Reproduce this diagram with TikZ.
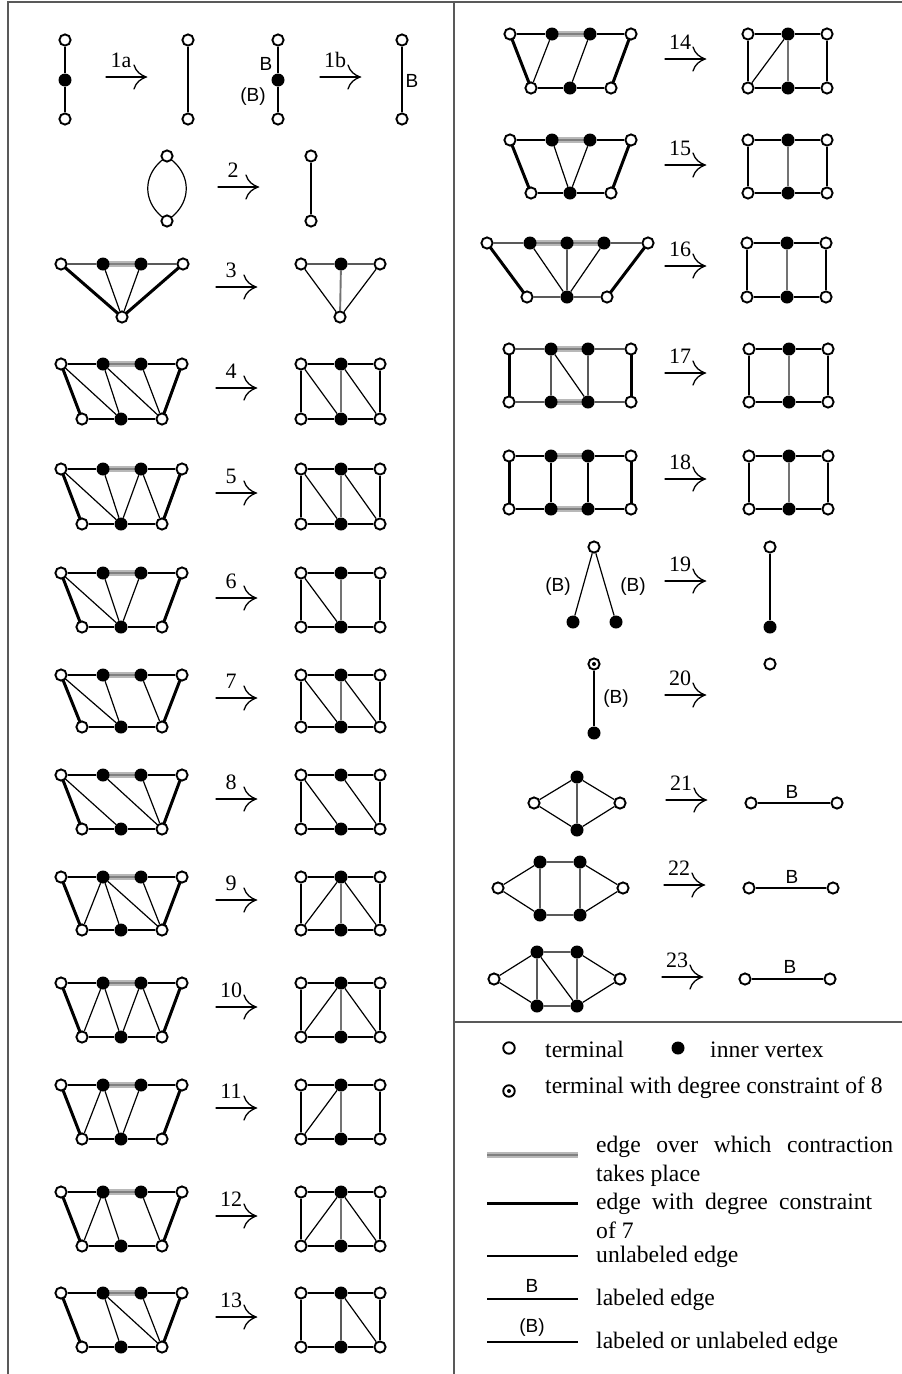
\documentclass[tikz,border=0pt]{standalone}
\usepackage{fontspec}
\setmainfont{Liberation Serif}
\newfontfamily\labfont{Liberation Sans}
\usetikzlibrary{backgrounds}

\tikzset{
  term/.style={circle, draw, fill=white, line width=1.9pt, minimum size=11.2pt, inner sep=0pt},
  inn/.style={circle, fill=black, minimum size=13pt, inner sep=0pt},
  dterm/.style={term, path picture={\fill[black] (path picture bounding box.center) circle (2pt);}},
  ln/.style={line width=1.2pt},
  dc/.style={line width=3pt},
  ctr/.style={line width=2.2pt, draw=black!50, preaction={draw=black!28, line width=6.5pt}},
  midln/.style={line width=1.9pt, draw=black!55},
  arr/.style={line width=1.3pt, line cap=round},
  frm/.style={line width=1.2pt, draw=black!65},
  lbl/.style={inner sep=0pt, anchor=base, font=\fontsize{22}{22}\selectfont},
  blab/.style={inner sep=0pt, font=\labfont\fontsize{19}{19}\selectfont},
  leg/.style={inner sep=0pt, anchor=base west, font=\fontsize{23.6}{26}\selectfont},
}

% edges go underneath the vertices
\newcommand\onbg[1]{\begin{scope}[on background layer]#1\end{scope}}

% reduction arrow: start x, y, rule number
\newcommand\RArrow[3]{%
  \draw[arr] (#1,#2) -- (#1+40,#2);
  \draw[arr] (#1+28,#2-12) .. controls (#1+30,#2-5) and (#1+35,#2-2) .. (#1+40,#2)
             .. controls (#1+35,#2+2) and (#1+30,#2+5) .. (#1+28,#2+12);
  \node[lbl] (lab#3) at (#1+15,#2-10) {#3};}

% trapezoid pattern: prefix, left x, top y, bottom y
\newcommand\LTrap[4]{%
  \node[term] (#1t1) at (#2,#3) {};
  \node[inn]  (#1a)  at (#2+42,#3) {};
  \node[inn]  (#1b)  at (#2+80,#3) {};
  \node[term] (#1t2) at (#2+121,#3) {};
  \node[term] (#1t3) at (#2+21,#4) {};
  \node[inn]  (#1c)  at (#2+60,#4) {};
  \node[term] (#1t4) at (#2+101,#4) {};
  \onbg{%
    \draw[ctr] (#1a.center) -- (#1b.center);
    \draw[dc] (#1t1.center) -- (#1t3.center) (#1t2.center) -- (#1t4.center);
    \draw[ln] (#1t1) -- (#1a) (#1b) -- (#1t2) (#1t3) -- (#1c) -- (#1t4);}}

% reduced 2x3 grid: prefix, left x, top y, bottom y
\newcommand\RSq[4]{%
  \node[term] (#1u1) at (#2,#3) {};
  \node[inn]  (#1v)  at (#2+40,#3) {};
  \node[term] (#1u2) at (#2+79,#3) {};
  \node[term] (#1u3) at (#2,#4) {};
  \node[inn]  (#1w)  at (#2+40,#4) {};
  \node[term] (#1u4) at (#2+79,#4) {};
  \onbg{\draw[ln] (#1u1) -- (#1v) -- (#1u2) -- (#1u4) -- (#1w) -- (#1u3) -- (#1u1);}}

\begin{document}
\begin{tikzpicture}[x=1pt,y=-1pt]
\useasboundingbox (0,0) rectangle (902,1374);

% frame
\draw[frm] (8,1374) -- (8,2) -- (902,2);
\draw[frm] (454,2) -- (454,1374);
\draw[frm] (454,1022) -- (902,1022);

% ---- rule 1a
\node[term] (p1) at (65,40) {};
\node[inn]  (p2) at (65,80) {};
\node[term] (p3) at (65,119) {};
\onbg{\draw[ln] (p1) -- (p2) -- (p3);}
\RArrow{106}{77}{1a}
\node[term] (q1) at (188,40) {};
\node[term] (q2) at (188,119) {};
\onbg{\draw[ln] (q1) -- (q2);}

% ---- rule 1b
\node[term] (p4) at (278,40) {};
\node[inn]  (p5) at (278,80) {};
\node[term] (p6) at (278,119) {};
\onbg{\draw[ln] (p4) -- (p5) -- (p6);}
\node[blab] (p7) at (266,64) {B};
\node[blab] (p8) at (253,97) {(B)};
\RArrow{320}{77}{1b}
\node[term] (q3) at (402,40) {};
\node[term] (q4) at (402,119) {};
\onbg{\draw[ln] (q3) -- (q4);}
\node[blab] (q5) at (412,81) {B};

% ---- rule 2
\node[term] (r2a) at (167,156) {};
\node[term] (r2b) at (167,221) {};
\onbg{\draw[ln] (r2a) .. controls +(-24,20) and +(-24,-20) .. (r2b);
      \draw[ln] (r2a) .. controls +(24,20) and +(24,-20) .. (r2b);}
\RArrow{218}{187}{2}
\node[term] (s2a) at (311,156) {};
\node[term] (s2b) at (311,221) {};
\onbg{\draw[ln] (s2a) -- (s2b);}

% ---- rule 3
\node[term] (r3t1) at (61,264) {};
\node[inn]  (r3a)  at (103,264) {};
\node[inn]  (r3b)  at (141,264) {};
\node[term] (r3t2) at (183,264) {};
\node[term] (r3c)  at (122,317) {};
\onbg{\draw[ctr] (r3a.center) -- (r3b.center);
      \draw[dc] (r3t1.center) -- (r3c.center) -- (r3t2.center);
      \draw[ln] (r3t1) -- (r3a) (r3b) -- (r3t2) (r3a) -- (r3c) -- (r3b);}
\RArrow{216}{287}{3}
\node[term] (s3u1) at (301,264) {};
\node[inn]  (s3v)  at (341,264) {};
\node[term] (s3u2) at (380,264) {};
\node[term] (s3w)  at (340,317) {};
\onbg{\draw[ln] (s3u1) -- (s3v) -- (s3u2) -- (s3w) -- (s3u1);
      \draw[midln] (s3v) -- (s3w);}

% ---- rule 4
\LTrap{a4}{61}{364}{419}
\onbg{\draw[ln] (a4t1) -- (a4c) (a4a) -- (a4c) (a4a) -- (a4t4) (a4b) -- (a4t4);}
\RArrow{216}{388}{4}
\RSq{b4}{301}{364}{419}
\onbg{\draw[ln] (b4u1) -- (b4w) (b4v) -- (b4u4); \draw[midln] (b4v) -- (b4w);}

% ---- rule 5
\LTrap{a5}{61}{469}{524}
\onbg{\draw[ln] (a5t1) -- (a5c) (a5a) -- (a5c) (a5b) -- (a5c) (a5b) -- (a5t4);}
\RArrow{216}{493}{5}
\RSq{b5}{301}{469}{524}
\onbg{\draw[ln] (b5u1) -- (b5w) (b5v) -- (b5u4); \draw[midln] (b5v) -- (b5w);}

% ---- rule 6
\LTrap{a6}{61}{573}{627}
\onbg{\draw[ln] (a6t1) -- (a6c) (a6a) -- (a6c) (a6b) -- (a6c);}
\RArrow{216}{598}{6}
\RSq{b6}{301}{573}{627}
\onbg{\draw[ln] (b6u1) -- (b6w); \draw[midln] (b6v) -- (b6w);}

% ---- rule 7
\LTrap{a7}{61}{675}{727}
\onbg{\draw[ln] (a7t1) -- (a7c) (a7a) -- (a7c) (a7b) -- (a7t4);}
\RArrow{216}{698}{7}
\RSq{b7}{301}{675}{727}
\onbg{\draw[ln] (b7u1) -- (b7w) (b7v) -- (b7u4); \draw[midln] (b7v) -- (b7w);}

% ---- rule 8
\LTrap{a8}{61}{775}{829}
\onbg{\draw[ln] (a8t1) -- (a8c) (a8a) -- (a8t4) (a8b) -- (a8t4);}
\RArrow{216}{799}{8}
\RSq{b8}{301}{775}{829}
\onbg{\draw[ln] (b8u1) -- (b8w) (b8v) -- (b8u4);}

% ---- rule 9
\LTrap{a9}{61}{877}{930}
\onbg{\draw[ln] (a9t3) -- (a9a) (a9a) -- (a9c) (a9a) -- (a9t4) (a9b) -- (a9t4);}
\RArrow{216}{900}{9}
\RSq{b9}{301}{877}{930}
\onbg{\draw[ln] (b9u3) -- (b9v) (b9v) -- (b9u4); \draw[midln] (b9v) -- (b9w);}

% ---- rule 10
\LTrap{a10}{61}{983}{1037}
\onbg{\draw[ln] (a10t3) -- (a10a) -- (a10c) -- (a10b) -- (a10t4);}
\RArrow{216}{1007}{10}
\RSq{b10}{301}{983}{1037}
\onbg{\draw[ln] (b10u3) -- (b10v) (b10v) -- (b10u4); \draw[midln] (b10v) -- (b10w);}

% ---- rule 11
\LTrap{a11}{61}{1085}{1139}
\onbg{\draw[ln] (a11t3) -- (a11a) -- (a11c) -- (a11b);}
\RArrow{216}{1108}{11}
\RSq{b11}{301}{1085}{1139}
\onbg{\draw[ln] (b11u3) -- (b11v); \draw[midln] (b11v) -- (b11w);}

% ---- rule 12
\LTrap{a12}{61}{1192}{1246}
\onbg{\draw[ln] (a12t3) -- (a12a) -- (a12c) (a12b) -- (a12t4);}
\RArrow{216}{1216}{12}
\RSq{b12}{301}{1192}{1246}
\onbg{\draw[ln] (b12u3) -- (b12v) (b12v) -- (b12u4); \draw[midln] (b12v) -- (b12w);}

% ---- rule 13
\LTrap{a13}{61}{1293}{1347}
\onbg{\draw[ln] (a13a) -- (a13c) (a13a) -- (a13t4) (a13b) -- (a13t4);}
\RArrow{216}{1317}{13}
\RSq{b13}{301}{1293}{1347}
\onbg{\draw[ln] (b13v) -- (b13u4) (b13v) -- (b13w);}

% ---- rule 14
\LTrap{a14}{510}{34}{88}
\onbg{\draw[ln] (a14t3) -- (a14a) (a14c) -- (a14b);}
\RArrow{665}{59}{14}
\RSq{b14}{748}{34}{88}
\onbg{\draw[ln] (b14u3) -- (b14v); \draw[midln] (b14v) -- (b14w);}

% ---- rule 15
\LTrap{a15}{510}{140}{193}
\onbg{\draw[ln] (a15a) -- (a15c) -- (a15b);}
\RArrow{665}{165}{15}
\RSq{b15}{748}{140}{193}
\onbg{\draw[midln] (b15v) -- (b15w);}

% ---- rule 16
\node[term] (a16t1) at (487,243) {};
\node[inn]  (a16a)  at (530,243) {};
\node[inn]  (a16m)  at (567,243) {};
\node[inn]  (a16b)  at (604,243) {};
\node[term] (a16t2) at (648,243) {};
\node[term] (a16t3) at (527,297) {};
\node[inn]  (a16c)  at (567,297) {};
\node[term] (a16t4) at (607,297) {};
\onbg{\draw[ctr] (a16a.center) -- (a16m.center) -- (a16b.center);
      \draw[dc] (a16t1.center) -- (a16t3.center) (a16t2.center) -- (a16t4.center);
      \draw[ln] (a16t1) -- (a16a) (a16b) -- (a16t2) (a16t3) -- (a16c) -- (a16t4)
                (a16a) -- (a16c) (a16m) -- (a16c) (a16b) -- (a16c);}
\RArrow{665}{266}{16}
\RSq{b16}{747}{243}{297}
\onbg{\draw[midln] (b16v) -- (b16w);}

% ---- rule 17
\node[term] (a17t1) at (509,349) {};
\node[inn]  (a17a)  at (551,349) {};
\node[inn]  (a17b)  at (588,349) {};
\node[term] (a17t2) at (631,349) {};
\node[term] (a17t3) at (509,402) {};
\node[inn]  (a17c)  at (551,402) {};
\node[inn]  (a17d)  at (588,402) {};
\node[term] (a17t4) at (631,402) {};
\onbg{\draw[ctr] (a17a.center) -- (a17b.center) (a17c.center) -- (a17d.center);
      \draw[dc] (a17t1.center) -- (a17t3.center) (a17t2.center) -- (a17t4.center);
      \draw[ln] (a17t1) -- (a17a) (a17b) -- (a17t2) (a17t3) -- (a17c) (a17d) -- (a17t4)
                (a17a) -- (a17c) (a17b) -- (a17d) (a17a) -- (a17d);}
\RArrow{665}{373}{17}
\RSq{b17}{749}{349}{402}
\onbg{\draw[midln] (b17v) -- (b17w);}

% ---- rule 18
\node[term] (a18t1) at (509,456) {};
\node[inn]  (a18a)  at (551,456) {};
\node[inn]  (a18b)  at (588,456) {};
\node[term] (a18t2) at (631,456) {};
\node[term] (a18t3) at (509,509) {};
\node[inn]  (a18c)  at (551,509) {};
\node[inn]  (a18d)  at (588,509) {};
\node[term] (a18t4) at (631,509) {};
\onbg{\draw[ctr] (a18a.center) -- (a18b.center) (a18c.center) -- (a18d.center);
      \draw[dc] (a18t1.center) -- (a18t3.center) (a18t2.center) -- (a18t4.center);
      \draw[ln] (a18t1) -- (a18a) (a18b) -- (a18t2) (a18t3) -- (a18c) (a18d) -- (a18t4)
                (a18a) -- (a18c) (a18b) -- (a18d);}
\RArrow{665}{479}{18}
\RSq{b18}{749}{456}{509}
\onbg{\draw[midln] (b18v) -- (b18w);}

% ---- rule 19
\node[term] (a19a) at (594,547) {};
\node[inn]  (a19b) at (573,622) {};
\node[inn]  (a19c) at (616,622) {};
\onbg{\draw[ln] (a19b) -- (a19a) -- (a19c);}
\node[blab] (a19l) at (558,587) {(B)};
\node[blab] (a19r) at (633,587) {(B)};
\RArrow{665}{581}{19}
\node[term] (b19a) at (770,547) {};
\node[inn]  (b19b) at (770,627) {};
\onbg{\draw[ln] (b19a) -- (b19b);}

% ---- rule 20
\node[dterm] (a20a) at (594,664) {};
\node[inn]   (a20b) at (594,733) {};
\onbg{\draw[ln] (a20a) -- (a20b);}
\node[blab] (a20l) at (616,699) {(B)};
\RArrow{665}{695}{20}
\node[term] (b20a) at (770,664) {};

% ---- rule 21
\node[term] (a21l) at (534,803) {};
\node[inn]  (a21t) at (577,777) {};
\node[inn]  (a21b) at (577,830) {};
\node[term] (a21r) at (620,803) {};
\onbg{\draw[ln] (a21l) -- (a21t) -- (a21r) -- (a21b) -- (a21l) (a21t) -- (a21b);}
\RArrow{666}{800}{21}
\node[term] (b21l) at (751,803) {};
\node[term] (b21r) at (837,803) {};
\onbg{\draw[ln] (b21l) -- (b21r);}
\node[blab] (b21t) at (792,792) {B};

% ---- rule 22
\node[term] (a22l) at (498,888) {};
\node[inn]  (a22a) at (540,862) {};
\node[inn]  (a22b) at (580,862) {};
\node[inn]  (a22c) at (540,915) {};
\node[inn]  (a22d) at (580,915) {};
\node[term] (a22r) at (623,888) {};
\onbg{\draw[ln] (a22l) -- (a22a) -- (a22b) -- (a22r) -- (a22d) -- (a22c) -- (a22l)
                (a22a) -- (a22c) (a22b) -- (a22d);}
\RArrow{664}{885}{22}
\node[term] (b22l) at (749,888) {};
\node[term] (b22r) at (833,888) {};
\onbg{\draw[ln] (b22l) -- (b22r);}
\node[blab] (b22t) at (792,877) {B};

% ---- rule 23
\node[term] (a23l) at (494,979) {};
\node[inn]  (a23a) at (537,952) {};
\node[inn]  (a23b) at (577,952) {};
\node[inn]  (a23c) at (537,1006) {};
\node[inn]  (a23d) at (577,1006) {};
\node[term] (a23r) at (620,979) {};
\onbg{\draw[ln] (a23l) -- (a23a) -- (a23b) -- (a23r) -- (a23d) -- (a23c) -- (a23l)
                (a23a) -- (a23c) (a23b) -- (a23d) (a23a) -- (a23d);}
\RArrow{662}{977}{23}
\node[term] (b23l) at (745,979) {};
\node[term] (b23r) at (830,979) {};
\onbg{\draw[ln] (b23l) -- (b23r);}
\node[blab] (b23t) at (790,967) {B};

% ---- legend
\node[term, minimum size=11.5pt] (k1) at (509,1048) {};
\node[leg] (k1t) at (545,1057) {terminal};
\node[inn, minimum size=13pt] (k2) at (678,1048) {};
\node[leg] (k2t) at (710,1057) {inner vertex};
\node[dterm, minimum size=11.5pt] (k3) at (509,1091) {};
\node[leg] (k3t) at (545,1093) {terminal with degree constraint of 8};

\coordinate (g1) at (487,1155); \coordinate (g2) at (578,1155);
\draw[ctr] (g1) -- (g2);
\node[leg] (g3) at (596,1152) {\makebox[297pt][s]{edge over which contraction}};
\node[leg] (g4) at (596,1181) {takes place};

\coordinate (h1) at (487,1203); \coordinate (h2) at (578,1203);
\draw[dc] (h1) -- (h2);
\node[leg] (h3) at (596,1209) {\makebox[276pt][s]{edge with degree constraint}};
\node[leg] (h4) at (596,1238) {of 7};

\coordinate (i1) at (487,1256); \coordinate (i2) at (578,1256);
\draw[ln] (i1) -- (i2);
\node[leg] (i3) at (596,1262) {unlabeled edge};

\coordinate (j1) at (487,1299); \coordinate (j2) at (578,1299);
\draw[ln] (j1) -- (j2);
\node[blab] (j3) at (532,1286) {B};
\node[leg] (j4) at (596,1305) {labeled edge};

\coordinate (m1) at (487,1342); \coordinate (m2) at (578,1342);
\draw[ln] (m1) -- (m2);
\node[blab] (m3) at (532,1328) {(B)};
\node[leg] (m4) at (596,1348) {labeled or unlabeled edge};
\end{tikzpicture}
\end{document}
